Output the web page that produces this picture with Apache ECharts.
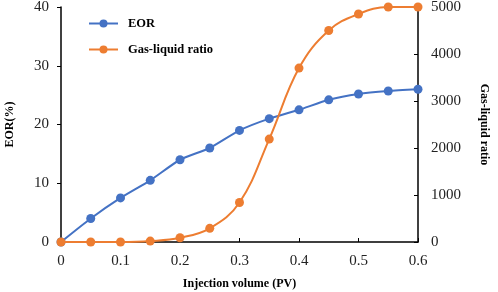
<!DOCTYPE html>
<html>
<head>
<meta charset="utf-8">
<script src="https://cdn.jsdelivr.net/npm/echarts@6/dist/echarts.min.js"></script>
<style>
  html, body { margin: 0; padding: 0; background: #fff; }
  #chart { width: 498px; height: 292px; }
</style>
</head>
<body>
<div id="chart"></div>
<script>
// injection volume (PV)
const injection = [0, 0.05, 0.1, 0.15, 0.2, 0.25, 0.3, 0.35, 0.4, 0.45, 0.5, 0.55, 0.6]
// EOR (%)
const eor = [0, 4, 7.5, 10.5, 14, 16, 19, 21, 22.5, 24.2, 25.2, 25.7, 26]
// gas-liquid ratio
const gasLiquid = [0, 0, 0, 20, 90, 290, 840, 2190, 3700, 4500, 4850, 5000, 5000]

const font = 'Liberation Serif'
const BLUE = '#4472C4'
const ORANGE = '#ED7D31'

const chart = echarts.init(document.getElementById('chart'))

const axisLine = { show: true, lineStyle: { color: '#000', width: 1.5 } }
const labelStyle = { color: '#222', fontFamily: font, fontSize: 15 }
const nameStyle = { color: '#000', fontFamily: font, fontSize: 12, fontWeight: 'bold' }

chart.setOption({
  animation: false,
  grid: { left: 61, right: 80, top: 7, bottom: 50, outerBoundsMode: 'none', containLabel: false },
  legend: {
    orient: 'vertical',
    left: 88,
    top: 17,
    padding: 0,
    itemWidth: 29,
    itemHeight: 10,
    itemGap: 13,
    textStyle: { fontFamily: font, fontSize: 12.5, fontWeight: 'bold', color: '#000', padding: [0, 0, 0, 5] },
    data: ['EOR', 'Gas-liquid ratio']
  },
  xAxis: {
    type: 'value',
    min: 0,
    max: 0.6,
    interval: 0.1,
    name: 'Injection volume (PV)',
    nameLocation: 'middle',
    nameGap: 36,
    nameTextStyle: nameStyle,
    axisLine,
    axisTick: { show: true, inside: true, length: 4, lineStyle: { color: '#000' } },
    axisLabel: { ...labelStyle, margin: 12 },
    splitLine: { show: false }
  },
  yAxis: [
    {
      type: 'value',
      min: 0,
      max: 40,
      interval: 10,
      name: 'EOR(%)',
      nameLocation: 'middle',
      nameGap: 45,
      nameTextStyle: nameStyle,
      axisLine,
      axisTick: { show: true, length: 4, lineStyle: { color: '#000' } },
      axisLabel: { ...labelStyle, margin: 12 },
      splitLine: { show: false }
    },
    {
      type: 'value',
      min: 0,
      max: 5000,
      interval: 1000,
      name: 'Gas-liquid ratio',
      nameLocation: 'middle',
      nameGap: 60,
      nameRotate: -90,
      nameTextStyle: nameStyle,
      axisLine,
      axisTick: { show: true, inside: true, length: 4, lineStyle: { color: '#000' } },
      axisLabel: { ...labelStyle, margin: 13, formatter: v => String(v) },
      splitLine: { show: false }
    }
  ],
  series: [
    {
      name: 'EOR',
      type: 'line',
      yAxisIndex: 0,
      smooth: 0.2,
      symbol: 'circle',
      symbolSize: 9,
      itemStyle: { color: BLUE },
      lineStyle: { color: BLUE, width: 2 },
      data: injection.map((x, i) => [x, eor[i]]),
      z: 3
    },
    {
      name: 'Gas-liquid ratio',
      type: 'line',
      yAxisIndex: 1,
      smooth: 0.4,
      symbol: 'circle',
      symbolSize: 9,
      itemStyle: { color: ORANGE },
      lineStyle: { color: ORANGE, width: 2 },
      data: injection.map((x, i) => [x, gasLiquid[i]]),
      z: 4
    }
  ]
})
</script>
</body>
</html>
